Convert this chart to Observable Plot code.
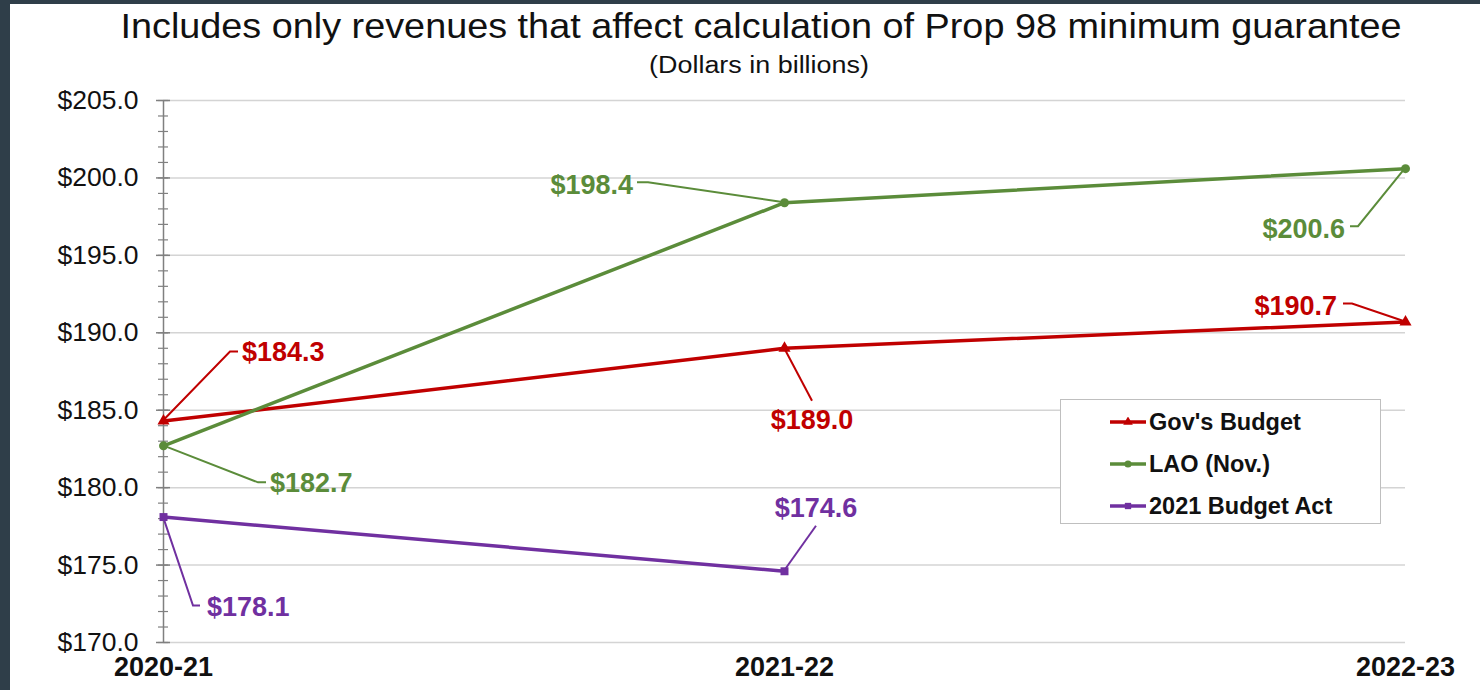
<!DOCTYPE html>
<html><head><meta charset="utf-8">
<script src="https://cdn.jsdelivr.net/npm/d3@7"></script>
<script src="https://cdn.jsdelivr.net/npm/@observablehq/plot@0.6"></script>
<style>
html,body{margin:0;padding:0;width:1480px;height:690px;background:#2f3e49;overflow:hidden;font-family:"Liberation Sans",Arial,sans-serif}
#page{position:absolute;left:10px;top:4px;width:1470px;height:686px;background:#fff}
#title{position:absolute;left:761px;top:6px;transform:translateX(-50%) scaleX(1.08);white-space:nowrap;font-size:35px;color:#111}
#subtitle{position:absolute;left:759px;top:52px;transform:translateX(-50%) scaleX(1.17);white-space:nowrap;font-size:23px;color:#111}
#chart{position:absolute;left:10px;top:80px}
#legend{position:absolute;left:1060px;top:399px;width:321px;height:125px;border:1.5px solid #bfbfbf;box-sizing:border-box;background:#fff}
.item{position:absolute;left:48px;height:30px;display:flex;align-items:center;font-weight:bold;font-size:23.5px;color:#111;white-space:nowrap}
.item svg{margin-right:2px}
</style></head><body>
<div id="page"></div>
<div id="title">Includes only revenues that affect calculation of Prop 98 minimum guarantee</div>
<div id="subtitle">(Dollars in billions)</div>
<div id="chart"></div>
<div id="legend"></div>
<script>
// ---- data ----
const categories = ["2020-21", "2021-22", "2022-23"];
const seriesNames = ["Gov's Budget", "LAO (Nov.)", "2021 Budget Act"];
const govBudget = [184.3, 189.0, 190.7];
const laoNov = [182.7, 198.4, 200.6];
const budgetAct2021 = [178.1, 174.6];
const yTicks = [170, 175, 180, 185, 190, 195, 200, 205];

// ---- styles ----
const colors = ["#c00000", "#5b8c3a", "#7030a0"];
const symbols = ["triangle", "circle", "square"];

// label leader layout (pixel offsets from the data point)
const labelLayout = {
  "Gov's Budget|2020-21": {path: [[67, -69], [75, -69]], text: [79, -69], anchor: "start"},
  "LAO (Nov.)|2020-21": {path: [[95, 37], [103, 37]], text: [107, 37], anchor: "start"},
  "2021 Budget Act|2020-21": {path: [[30, 89], [37, 89]], text: [44, 90], anchor: "start"},
  "LAO (Nov.)|2021-22": {path: [[-136, -20], [-147, -20]], text: [-151, -18], anchor: "end"},
  "Gov's Budget|2021-22": {path: [[28, 53]], text: [28, 72], anchor: "middle"},
  "2021 Budget Act|2021-22": {path: [[32, -45]], text: [32, -63], anchor: "middle"},
  "LAO (Nov.)|2022-23": {path: [[-47, 58], [-55, 58]], text: [-60, 60], anchor: "end"},
  "Gov's Budget|2022-23": {path: [[-53, -18], [-62, -18]], text: [-68, -16], anchor: "end"}
};

const seriesValues = [govBudget, laoNov, budgetAct2021];
const rows = [];
seriesNames.forEach((s, i) => seriesValues[i].forEach((v, j) => rows.push({series: s, cat: categories[j], value: v})));
const colorOf = Object.fromEntries(seriesNames.map((s, i) => [s, colors[i]]));

function leaders(index, scales) {
  const g = d3.create("svg:g");
  for (const d of rows) {
    const L = labelLayout[d.series + "|" + d.cat];
    if (!L) continue;
    const px = scales.x(d.cat), py = scales.y(d.value);
    const pts = [[px, py], ...L.path.map(([dx, dy]) => [px + dx, py + dy])];
    g.append("polyline")
      .attr("points", pts.map(p => p.join(",")).join(" "))
      .attr("fill", "none").attr("stroke", colorOf[d.series]).attr("stroke-width", 2);
    g.append("text")
      .attr("x", px + L.text[0]).attr("y", py + L.text[1]).attr("dy", "0.35em")
      .attr("text-anchor", L.anchor)
      .attr("font-size", 27).attr("font-weight", "bold")
      .attr("font-family", '"Liberation Sans", Arial, sans-serif')
      .attr("fill", colorOf[d.series])
      .text("$" + d.value.toFixed(1));
  }
  return g.node();
}

const fmt = d => "$" + d.toFixed(1);
const chart = Plot.plot({
  width: 1470,
  height: 610,
  marginLeft: 153,
  marginRight: 75,
  marginTop: 20,
  marginBottom: 48,
  style: {background: "transparent", fontFamily: '"Liberation Sans", Arial, sans-serif', color: "#111"},
  x: {type: "point", domain: categories, padding: 0},
  y: {domain: [170, 205]},
  color: {domain: seriesNames, range: colors},
  symbol: {domain: seriesNames, range: symbols},
  marks: [
    Plot.gridY(yTicks, {stroke: "#d4d4d4", strokeOpacity: 1, strokeWidth: 1.5}),
    Plot.axisY(d3.range(170, 206), {tickSize: 10, dx: 5, tickFormat: () => "", stroke: "#808080", strokeWidth: 1.2, label: null}),
    Plot.axisY(yTicks, {tickSize: 14, dx: 7, tickFormat: () => "", stroke: "#808080", strokeWidth: 1.5, label: null}),
    Plot.axisY(yTicks, {tickSize: 0, tickPadding: 25, tickFormat: fmt, fontSize: 26.5, fill: "#111", label: null}),
    Plot.ruleX([categories[0]], {stroke: "#808080", strokeWidth: 1.5}),
    Plot.axisX({tickSize: 0, tickPadding: 14, fontSize: 27, fontWeight: "bold", fill: "#111", label: null}),
    Plot.line(rows, {x: "cat", y: "value", z: "series", stroke: "series", strokeWidth: 3.5}),
    Plot.dot(rows, {x: "cat", y: "value", symbol: "series", fill: "series", r: 4.5}),
    leaders
  ]
});
document.getElementById("chart").append(chart);

// ---- legend ----
const legend = document.getElementById("legend");
const legendTops = [7, 49, 91];
seriesNames.forEach((s, i) => {
  const item = document.createElement("div");
  item.className = "item";
  item.style.top = legendTops[i] + "px";
  const sym = d3.symbol(symbols[i] === "triangle" ? d3.symbolTriangle : symbols[i] === "circle" ? d3.symbolCircle : d3.symbolSquare, 40)();
  item.innerHTML = `<svg width="38" height="10" viewBox="0 0 38 10"><line x1="1" y1="5" x2="37" y2="5" stroke="${colors[i]}" stroke-width="3.5"/><path transform="translate(19,5)" d="${sym}" fill="${colors[i]}"/></svg><span>${s}</span>`;
  legend.append(item);
});
</script>
</body></html>
